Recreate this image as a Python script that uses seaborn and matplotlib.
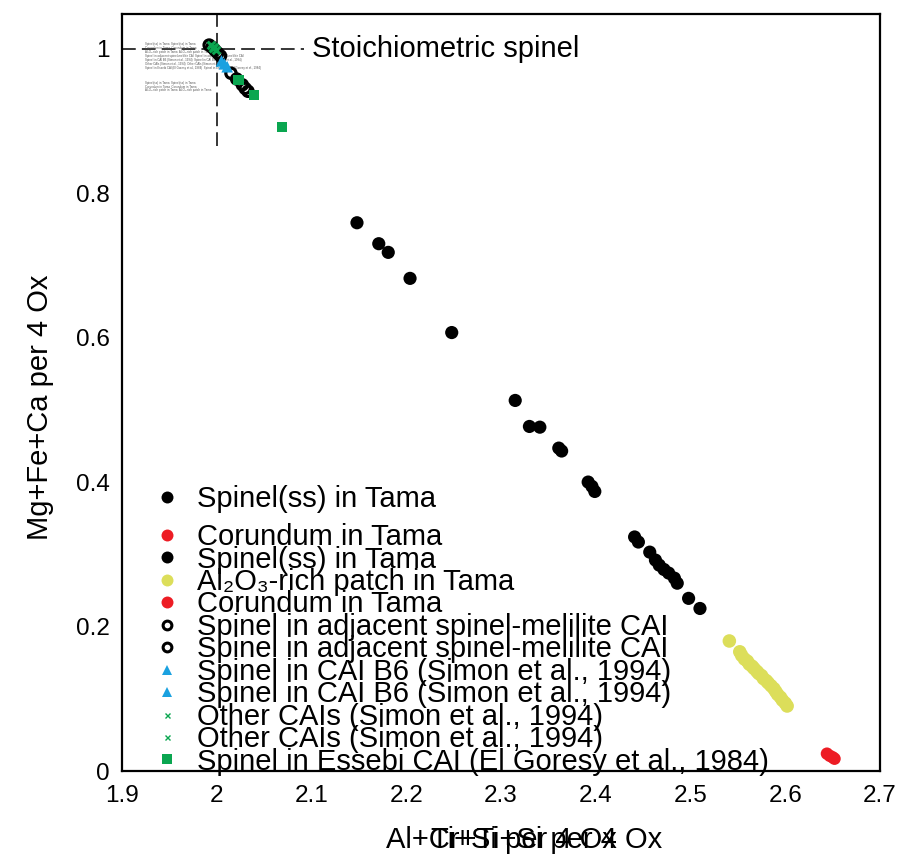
import matplotlib
matplotlib.use("Agg")
import matplotlib.pyplot as plt
from matplotlib.lines import Line2D
from matplotlib.ticker import FuncFormatter, FixedLocator
import seaborn as sns

sns.set_theme(style="white")
plt.rcParams['font.family'] = ['Liberation Sans', 'DejaVu Sans']
plt.rcParams['text.color'] = 'black'

# ---------------- data ----------------
spinel_x = [2.148, 2.171, 2.181, 2.204, 2.248, 2.315, 2.330, 2.341, 2.361, 2.364,
            2.392, 2.396, 2.399, 2.441, 2.445, 2.457, 2.463, 2.467, 2.472, 2.477,
            2.483, 2.486, 2.498, 2.510]
spinel_y = [0.759, 0.730, 0.718, 0.682, 0.607, 0.513, 0.477, 0.476, 0.447, 0.443,
            0.400, 0.394, 0.387, 0.324, 0.317, 0.303, 0.292, 0.285, 0.279, 0.274,
            0.267, 0.260, 0.239, 0.225]

al2o3_x = [2.541, 2.552, 2.554, 2.557, 2.560, 2.562, 2.565, 2.567, 2.570, 2.572,
           2.575, 2.577, 2.580, 2.582, 2.585, 2.588, 2.590, 2.592, 2.595, 2.597,
           2.600, 2.602]
al2o3_y = [0.180, 0.165, 0.160, 0.155, 0.152, 0.148, 0.145, 0.142, 0.138, 0.135,
           0.132, 0.128, 0.125, 0.122, 0.118, 0.114, 0.110, 0.106, 0.102, 0.098,
           0.094, 0.090]

corundum_x = [2.644, 2.647, 2.650, 2.652]
corundum_y = [0.024, 0.021, 0.019, 0.017]

adjacent_x = [1.992, 1.995, 1.998, 2.001, 2.004, 2.015, 2.021, 2.027, 2.030, 2.033]
adjacent_y = [1.005, 1.002, 0.998, 0.994, 0.990, 0.966, 0.958, 0.950, 0.945, 0.941]

b6_x = [2.005, 2.008, 2.011]
b6_y = [0.983, 0.979, 0.975]

other_x = [1.994, 1.996, 1.999, 1.997]
other_y = [1.005, 1.001, 0.998, 1.003]

essebi_x = [2.023, 2.039, 2.069]
essebi_y = [0.957, 0.936, 0.892]

stoich_x = 2.0
stoich_y = 1.0

x_ticks = [1.9, 2.0, 2.1, 2.2, 2.3, 2.4, 2.5, 2.6, 2.7]
y_ticks = [0, 0.2, 0.4, 0.6, 0.8, 1.0]

lab_spinel = "Spinel(ss) in Tama"
lab_cor = "Corundum in Tama"
lab_al = "Al\u2082O\u2083-rich patch in Tama"
lab_adj = "Spinel in adjacent spinel-melilite CAI"
lab_b6 = "Spinel in CAI B6 (Simon et al., 1994)"
lab_other = "Other CAIs (Simon et al., 1994)"
lab_ess = "Spinel in Essebi CAI (El Goresy et al., 1984)"

# ---------------- colours ----------------
c_black = "#000000"
c_red = "#ED1C24"
c_yellow = "#DCDE5A"
c_blue = "#1AA1E0"
c_green = "#0AA650"

# ---------------- figure ----------------
fig, ax = plt.subplots(figsize=(9.06, 8.61), dpi=100)
fig.subplots_adjust(left=122 / 906, right=880 / 906, top=1 - 14 / 861, bottom=1 - 771 / 861)

# guide lines for stoichiometric spinel
ax.plot([1.9, 2.092], [stoich_y, stoich_y], color="black", lw=1.1,
        linestyle=(0, (9, 4)), zorder=1)
ax.plot([stoich_x, stoich_x], [0.865, 1.05], color="black", lw=1.1,
        linestyle=(0, (9, 4)), zorder=1)
ax.text(2.1, 1.0, "Stoichiometric spinel", fontsize=21, va="center", ha="left",
        color="black")

# tiny embedded text block (unreadable in the reference)
tiny = [lab_spinel, lab_cor, lab_al, lab_adj, lab_b6, lab_other, lab_ess]
for i, t in enumerate(tiny):
    ax.text(0.031, 0.963 - i * 0.0052, t + "  " + t, fontsize=2.1, color="#555555",
            transform=ax.transAxes, va="top", ha="left")
for i, t in enumerate(tiny[:3]):
    ax.text(0.031, 0.912 - i * 0.0052, t + "  " + t, fontsize=2.1, color="#555555",
            transform=ax.transAxes, va="top", ha="left")

# data
sns.scatterplot(x=spinel_x, y=spinel_y, ax=ax, color=c_black, s=90, marker="o",
                edgecolor="none", zorder=3, legend=False)
sns.scatterplot(x=al2o3_x, y=al2o3_y, ax=ax, color=c_yellow, s=95, marker="o",
                edgecolor="none", zorder=3, legend=False)
sns.scatterplot(x=corundum_x, y=corundum_y, ax=ax, color=c_red, s=80, marker="o",
                edgecolor="none", zorder=3, legend=False)
sns.scatterplot(x=adjacent_x, y=adjacent_y, ax=ax, s=55, marker="o",
                facecolor="none", edgecolor=c_black, linewidth=2.3, zorder=4, legend=False)
sns.scatterplot(x=other_x, y=other_y, ax=ax, color=c_green, s=30, marker="x",
                linewidth=2.2, zorder=4, legend=False)
sns.scatterplot(x=b6_x, y=b6_y, ax=ax, color=c_blue, s=70, marker="^",
                edgecolor="none", zorder=5, legend=False)
sns.scatterplot(x=essebi_x, y=essebi_y, ax=ax, color=c_green, s=55, marker="s",
                edgecolor="none", zorder=5, legend=False)

# axes
ax.set_xlim(1.9, 2.7)
ax.set_ylim(0, 1.048)
ax.xaxis.set_major_locator(FixedLocator(x_ticks))
ax.yaxis.set_major_locator(FixedLocator(y_ticks))
fmt = FuncFormatter(lambda v, p: "%g" % round(v, 3))
ax.xaxis.set_major_formatter(fmt)
ax.yaxis.set_major_formatter(fmt)
ax.tick_params(axis="both", which="major", direction="in", length=7, width=1.2,
               colors="black", labelsize=17.5, top=False, right=False)
ax.tick_params(axis="x", pad=10)
ax.tick_params(axis="y", pad=9)
for sp in ax.spines.values():
    sp.set_color("black")
    sp.set_linewidth(1.6)

# axis labels (two overlapping x labels, as in the reference)
ax.set_xlabel("Al+Cr+Ti+Si per 4 Ox", fontsize=21, color="black")
ax.xaxis.set_label_coords(0.53, -0.072)
ax.text(0.53, -0.072, "Ti+Si per 4 Ox", fontsize=21, color="black",
        transform=ax.transAxes, ha="center", va="top")
ax.set_ylabel("Mg+Fe+Ca per 4 Ox", fontsize=21, color="black")
ax.yaxis.set_label_coords(-0.09, 0.48)


def h(marker, color, ms, mfc=None, mew=0.0):
    return Line2D([], [], linestyle="none", marker=marker, color=color,
                  markerfacecolor=color if mfc is None else mfc,
                  markeredgecolor=color, markersize=ms, markeredgewidth=mew)


h_spinel = h("o", c_black, 8.6)
h_cor = h("o", c_red, 8.6)
h_al = h("o", c_yellow, 8.6)
h_adj = h("o", c_black, 6.3, mfc="none", mew=2.2)
h_b6 = h("^", c_blue, 6.5)
h_other = h("x", c_green, 3.6, mew=1.0)
h_ess = h("s", c_green, 6.6)

leg_kw = dict(frameon=False, fontsize=21, loc="upper left", borderpad=0,
              borderaxespad=0, handlelength=1.0, handletextpad=0.53,
              labelspacing=-0.19, labelcolor="black")
leg1 = ax.legend([h_spinel], [lab_spinel], bbox_to_anchor=(0.0402, 0.378), **leg_kw)
ax.add_artist(leg1)
ax.legend([h_cor, h_spinel, h_al, h_cor, h_adj, h_adj, h_b6, h_b6, h_other, h_other, h_ess],
          [lab_cor, lab_spinel, lab_al, lab_cor, lab_adj, lab_adj, lab_b6, lab_b6,
           lab_other, lab_other, lab_ess],
          bbox_to_anchor=(0.0402, 0.3275), **leg_kw)

fig.savefig("out.png", dpi=100)
